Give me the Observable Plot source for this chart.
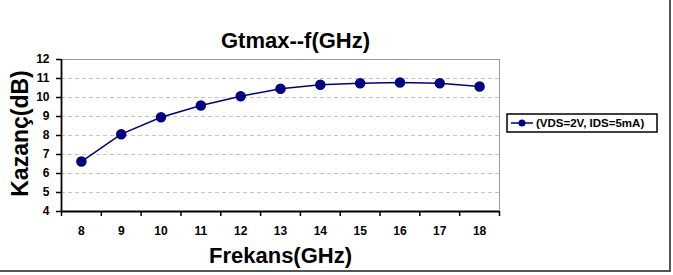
<!DOCTYPE html>
<html>
<head>
<meta charset="utf-8">
<script src="https://cdn.jsdelivr.net/npm/d3@7"></script>
<script src="https://cdn.jsdelivr.net/npm/@observablehq/plot@0.6"></script>
<style>
  html, body { margin: 0; padding: 0; background: #fff; }
  #wrap { position: relative; width: 673px; height: 275px; overflow: hidden; }
  #wrap svg { position: absolute; left: 0; top: 0; }
  #edge { position: absolute; left: 0; top: 0; width: 669px; height: 270px;
          border-right: 2px solid #555; border-bottom: 2px solid #555; pointer-events: none; }
</style>
</head>
<body>
<div id="wrap"><div id="edge"></div></div>
<script>
const frequencies = [8, 9, 10, 11, 12, 13, 14, 15, 16, 17, 18];
const gains = [6.63, 8.07, 8.96, 9.58, 10.07, 10.46, 10.67, 10.75, 10.79, 10.75, 10.58];
const yTicks = [4, 5, 6, 7, 8, 9, 10, 11, 12];
const gridLines = [5, 6, 7, 8, 9, 10, 11];
const xBoundaries = [7.5, 8.5, 9.5, 10.5, 11.5, 12.5, 13.5, 14.5, 15.5, 16.5, 17.5, 18.5];
const titleText = "Gtmax--f(GHz)";
const xLabel = "Frekans(GHz)";
const yLabel = "Kazanç(dB)";
const seriesName = "(VDS=2V, IDS=5mA)";

const data = frequencies.map((f, i) => ({f, g: gains[i]}));
const navy = "#000080";
const font = "'Liberation Sans', Arial, sans-serif";

const chart = Plot.plot({
  width: 673,
  height: 275,
  marginLeft: 61,
  marginRight: 174,
  marginTop: 59,
  marginBottom: 64,
  style: {fontFamily: font, background: "transparent"},
  x: {domain: [7.5, 18.5], axis: null},
  y: {domain: [4, 12], axis: null},
  marks: [
    Plot.ruleY(gridLines, {stroke: "#c4c4c4", strokeDasharray: "4,3"}),
    Plot.ruleY([12], {stroke: "#999"}),
    Plot.ruleX([18.5], {stroke: "#999"}),
    Plot.axisY({ticks: yTicks, tickSize: 5, tickPadding: 7, label: null, fontSize: 12, fontWeight: "bold", stroke: "#000", strokeWidth: 1.5, color: "#000"}),
    Plot.axisX({ticks: xBoundaries, tickSize: 5, tickFormat: () => "", label: null, stroke: "#000", strokeWidth: 1.5}),
    Plot.axisX({ticks: frequencies, tickSize: 0, tickPadding: 15, label: null, fontSize: 12, fontWeight: "bold", color: "#000"}),
    Plot.ruleX([7.5], {stroke: "#000", strokeWidth: 1.8}),
    Plot.ruleY([4], {stroke: "#000", strokeWidth: 1.8}),
    Plot.line(data, {x: "f", y: "g", stroke: navy, strokeWidth: 1.5}),
    Plot.dot(data, {x: "f", y: "g", r: 4.5, fill: navy, stroke: navy}),
    Plot.text([titleText], {text: d => d, frameAnchor: "top", lineAnchor: "middle", dx: 15, dy: -19, fontSize: 22, fontWeight: "bold", fill: "#000"}),
    Plot.text([xLabel], {text: d => d, frameAnchor: "bottom", lineAnchor: "middle", dy: 44, fontSize: 22, fontWeight: "bold", fill: "#000"}),
    Plot.text([yLabel], {text: d => d, frameAnchor: "left", textAnchor: "middle", lineAnchor: "middle", dx: -41, dy: -2, rotate: -90, fontSize: 23, fontWeight: "bold", fill: "#000"})
  ]
});

document.getElementById("wrap").insertBefore(chart, document.getElementById("edge"));

// legend
const svg = d3.select(chart);
const lg = svg.append("g").attr("font-family", font).attr("text-anchor", "start");
lg.append("rect").attr("x", 507).attr("y", 114).attr("width", 150).attr("height", 18)
  .attr("fill", "#fff").attr("stroke", "#000").attr("stroke-width", 1.5);
lg.append("line").attr("x1", 511).attr("x2", 533).attr("y1", 123).attr("y2", 123)
  .attr("stroke", navy).attr("stroke-width", 1.5);
lg.append("circle").attr("cx", 522).attr("cy", 123).attr("r", 3.5).attr("fill", navy);
lg.append("text").attr("x", 536).attr("y", 123).attr("dy", "0.35em")
  .attr("font-size", 11.5).attr("font-weight", "bold").text(seriesName);
</script>
</body>
</html>
